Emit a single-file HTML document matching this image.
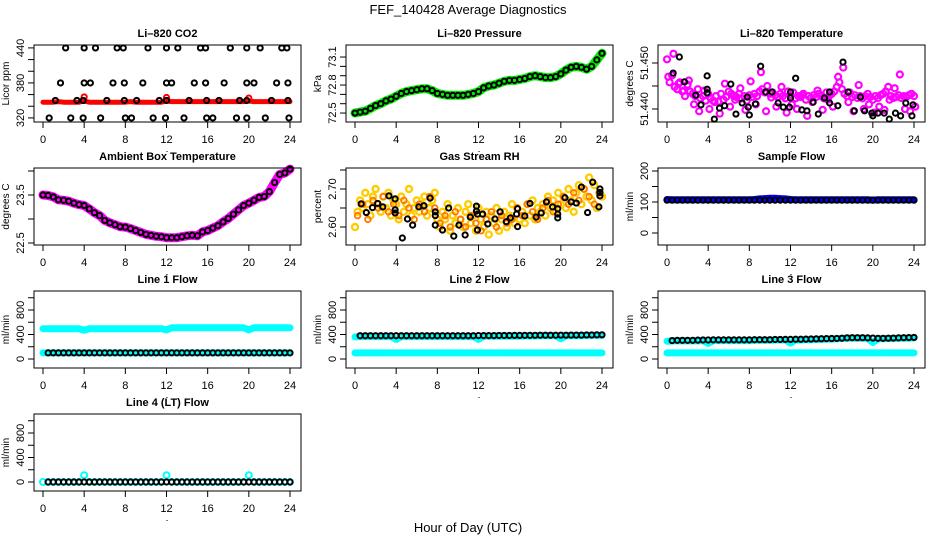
<!DOCTYPE html>
<html><head><meta charset="utf-8">
<style>
html,body{margin:0;padding:0;background:#fff;}
svg{display:block;font-family:"Liberation Sans",Arial,sans-serif;}
</style></head>
<body>
<svg id="chart" width="936" height="540" viewBox="0 0 936 540" xmlns="http://www.w3.org/2000/svg">
<text x="468" y="14" text-anchor="middle" font-size="13">FEF_140428  Average Diagnostics</text>
<text x="468" y="532" text-anchor="middle" font-size="13">Hour of Day (UTC)</text>
</svg>
<script>
// ---------- data ----------
const hourTicks = [0,4,8,12,16,20,24];
const co2BlackT = [2.2,4.0,5.1,7.2,7.8,10.2,12.0,13.1,15.3,15.8,18.2,19.8,21.1,23.2,23.7,
 1.7,4.0,4.6,6.8,7.9,9.7,12.0,12.5,14.7,15.8,17.6,19.8,20.5,22.7,23.8,
 1.2,3.3,3.9,6.2,7.9,9.1,11.3,12.0,14.2,15.9,17.1,19.1,19.8,22.2,23.8,
 0.6,2.7,3.9,5.6,8.0,8.6,10.7,11.9,13.7,15.9,16.5,18.8,19.8,21.6,23.9];
const co2BlackV = [440,440,440,440,440,440,440,440,440,440,440,440,440,440,440,
 380,380,380,380,380,380,380,380,380,380,380,380,380,380,380,
 350,350,350,350,350,350,350,350,350,350,350,350,350,350,350,
 320,320,320,320,320,320,320,320,320,320,320,320,320,320,320];
const co2Red = [347,347,347,348,347,347,347,347,349,347,347,347,347,347,347,347,347,348,347,347,347,347,347,347,349,348,348,348,348,348,348,348,348,348,348,348,348,348,348,348,349,348,348,348,348,348,348,348,348];
const co2RedSpikeT = [4,12,20];
const co2RedSpikeV = [356,355,354];
const pressure = [72.50,72.51,72.52,72.55,72.58,72.60,72.63,72.65,72.68,72.71,72.73,72.74,72.75,72.76,72.76,72.74,72.71,72.70,72.69,72.69,72.69,72.69,72.70,72.71,72.73,72.77,72.79,72.80,72.82,72.84,72.85,72.85,72.86,72.87,72.89,72.90,72.89,72.88,72.88,72.89,72.92,72.96,72.99,73.00,72.99,72.97,73.00,73.07,73.14];
const tempMag = [51.4508,51.4458,51.4473,51.4448,51.4443,51.4458,51.4438,51.4428,51.4453,
 51.4438,51.4433,51.4428,51.4443,51.4423,51.4428,51.4418,51.4433,
 51.4423,51.4418,51.4428,51.4416,51.4433,51.4420,51.4426,51.4438,
 51.4433,51.4428,51.4426,51.4433,51.4423,51.4428,51.4418,51.4430,
 51.4426,51.4433,51.4428,51.4438,51.4443,51.4436,51.4450,51.4433,
 51.4436,51.4430,51.4426,51.4433,51.4428,51.4423,51.4438,51.4430,
 51.4436,51.4423,51.4428,51.4426,51.4433,51.4420,51.4428,51.4424,
 51.4430,51.4426,51.4433,51.4428,51.4423,51.4436,51.4428,51.4433,
 51.4438,51.4448,51.4458,51.4443,51.4433,51.4428,51.4436,51.4426,
 51.4430,51.4424,51.4428,51.4423,51.4428,51.4433,51.4426,51.4420,
 51.4428,51.4424,51.4430,51.4433,51.4438,51.4448,51.4428,51.4424,
 51.4426,51.4430,51.4424,51.4428,51.4426,51.4430,51.4433,51.4428];
const tempMag2 = [51.4470,51.4520,51.4455,51.4440,51.4462,51.4410,51.4395,51.4440,
 51.4400,51.4415,51.4390,51.4455,51.4405,51.4420,51.4445,51.4398,
 51.4460,51.4410,51.4480,51.4395,51.4425,51.4405,51.4448,51.4392,
 51.4410,51.4400,51.4430,51.4385,51.4415,51.4440,51.4398,51.4420,
 51.4405,51.4470,51.4490,51.4415,51.4395,51.4452,51.4400,51.4410,
 51.4392,51.4405,51.4398,51.4420,51.4445,51.4475,51.4400,51.4395,51.4405];
const tempBlackT = [0.6,1.2,1.7,2.8,3.3,3.9,3.9,3.9,4.6,5.1,5.6,6.2,6.7,7.3,7.8,7.9,8.0,8.6,9.1,9.6,10.2,10.8,11.3,11.9,12.0,12.0,12.5,13.1,13.6,14.7,14.2,15.3,15.8,15.8,16.6,17.1,17.6,18.2,18.8,19.2,19.9,20.0,20.5,21.1,21.6,22.2,22.7,23.2,23.8,23.9];
const tempBlackV = [51.4478,51.4513,51.4459,51.4430,51.4409,51.4472,51.4443,51.4435,51.4378,51.4402,51.4407,51.4454,51.4389,51.4413,51.4426,51.4404,51.4387,51.4411,51.4493,51.4437,51.4437,51.4413,51.4404,51.4404,51.4437,51.4424,51.4467,51.4398,51.4396,51.4389,51.4415,51.4424,51.4413,51.4437,51.4407,51.4502,51.4437,51.4396,51.4426,51.4396,51.4391,51.4385,51.4391,51.4391,51.4378,51.4391,51.4385,51.4413,51.4385,51.4409];
const ambient = [23.50,23.49,23.46,23.40,23.39,23.37,23.33,23.30,23.28,23.21,23.13,23.07,22.97,22.92,22.88,22.84,22.83,22.80,22.76,22.72,22.68,22.66,22.64,22.63,22.61,22.61,22.61,22.63,22.65,22.66,22.65,22.73,22.76,22.81,22.86,22.94,23.01,23.10,23.19,23.28,23.33,23.39,23.45,23.47,23.57,23.76,23.93,23.96,24.04];
const rhYellow = [2.60,2.64,2.67,2.65,2.69,2.66,2.63,2.68,2.70,
 2.66,2.64,2.68,2.65,2.69,2.63,2.67,2.66,
 2.62,2.68,2.64,2.66,2.70,2.63,2.65,2.67,
 2.64,2.66,2.68,2.63,2.65,2.67,2.69,2.62,
 2.60,2.64,2.62,2.66,2.59,2.63,2.61,2.65,
 2.62,2.60,2.64,2.66,2.61,2.63,2.59,2.65,
 2.62,2.60,2.64,2.58,2.63,2.61,2.65,2.59,
 2.62,2.64,2.60,2.63,2.66,2.61,2.65,2.62,
 2.64,2.61,2.66,2.63,2.67,2.62,2.65,2.64,
 2.66,2.63,2.68,2.65,2.67,2.64,2.69,2.66,
 2.68,2.65,2.70,2.67,2.64,2.69,2.71,2.66,
 2.70,2.68,2.73,2.67,2.71,2.65,2.69,2.68];
const rhRed = [2.63,2.66,2.62,2.67,2.65,2.68,2.64,2.66,
 2.63,2.67,2.65,2.62,2.66,2.64,2.68,2.65,
 2.61,2.63,2.60,2.64,2.62,2.60,2.63,2.61,
 2.59,2.62,2.64,2.60,2.63,2.61,2.62,2.65,
 2.63,2.66,2.64,2.62,2.65,2.67,2.64,2.66,
 2.68,2.66,2.69,2.67,2.70,2.68,2.66,2.69];
const rhBlackT = [0.6,1.1,1.7,2.2,2.7,3.3,3.9,3.9,3.9,4.6,5.1,5.6,6.2,6.7,7.3,7.8,7.8,7.8,8.5,9.1,9.6,10.1,10.7,11.2,11.8,11.8,11.9,11.9,12.4,12.9,13.6,14.1,14.7,15.1,15.7,15.8,15.8,16.5,17.0,17.6,18.1,18.6,19.2,19.7,19.7,19.7,20.4,21.0,21.5,22.0,22.6,23.1,23.7,23.8,23.8,23.8];
const rhBlackV = [2.661,2.638,2.651,2.662,2.653,2.682,2.674,2.645,2.637,2.571,2.621,2.605,2.653,2.656,2.676,2.640,2.630,2.605,2.592,2.650,2.576,2.605,2.579,2.626,2.655,2.642,2.592,2.634,2.634,2.608,2.621,2.640,2.614,2.624,2.634,2.648,2.601,2.629,2.662,2.626,2.637,2.666,2.653,2.648,2.624,2.634,2.677,2.666,2.663,2.705,2.638,2.718,2.653,2.700,2.682,2.691];
const sampleBlue = [108,107,107,107,107,107,107,107,107,107,107,107,107,107,107,107,107,108,110,111,112,112,111,110,108,107,107,107,107,107,107,107,107,107,107,107,107,107,107,107,106,107,107,107,107,107,107,107,107];
const sampleBlack = [106,106,106,106,106,106,106,106,106,106,106,106,106,106,106,106,106,106,106,106,106,106,106,106,106,106,106,106,106,106,106,106,106,106,106,106,106,106,106,106,106,106,106,106,106,106,106,106,106];
const line1Cyan = [495,495,495,495,495,495,495,495,470,495,495,495,495,495,495,495,495,495,495,495,495,495,495,495,475,510,510,510,510,510,510,510,510,510,510,510,510,510,510,510,475,510,510,510,510,510,510,510,510];
const line1CyanLow = [100,100,100,100,100,100,100,100,100,100,100,100,100,100,100,100,100,100,100,100,100,100,100,100,100,100,100,100,100,100,100,100,100,100,100,100,100,100,100,100,100,100,100,100,100,100,100,100,100];
const line1Black = [100,100,100,100,100,100,100,100,100,100,100,100,100,100,100,100,100,100,100,100,100,100,100,100,100,100,100,100,100,100,100,100,100,100,100,100,100,100,100,100,100,100,100,100,100,100,100,100,100];
const line2Cyan = [360,365,365,365,365,365,365,365,320,365,365,365,365,365,365,365,365,365,365,365,365,365,365,365,320,370,370,370,370,370,370,370,370,375,375,375,380,380,380,380,330,380,380,380,380,385,385,385,385];
const line2CyanLow = [100,100,100,100,100,100,100,100,100,100,100,100,100,100,100,100,100,100,100,100,100,100,100,100,100,100,100,100,100,100,100,100,100,100,100,100,100,100,100,100,100,100,100,100,100,100,100,100,100];
const line2Black = [380,380,380,380,380,380,380,380,380,380,380,380,380,380,380,380,380,380,380,380,380,380,380,380,382,382,382,382,384,384,384,385,385,386,386,387,388,388,388,388,389,389,390,390,390,392,392,394,395];
const line3Cyan = [290,295,295,295,295,295,295,300,255,300,300,300,300,300,300,300,300,305,305,305,305,310,310,310,260,310,310,315,315,320,320,325,325,330,335,340,340,340,340,335,270,330,330,335,335,340,340,340,345];
const line3CyanLow = [100,100,100,100,100,100,100,100,100,100,100,100,100,100,100,100,100,100,100,100,100,100,100,100,100,100,100,100,100,100,100,100,100,100,100,100,100,100,100,100,100,100,100,100,100,100,100,100,100];
const line3Black = [300,300,305,305,305,305,308,310,310,312,312,312,312,312,312,312,312,314,315,315,315,318,318,320,320,322,322,324,326,328,330,332,334,336,340,345,348,348,348,345,342,338,338,340,342,345,348,350,352];
const line4Cyan = [0,0,0,0,0,0,0,0,110,0,0,0,0,0,0,0,0,0,0,0,0,0,0,0,110,0,0,0,0,0,0,0,0,0,0,0,0,0,0,0,110,0,0,0,0,0,0,0,0];
const line4Black = [0,0,0,0,0,0,0,0,0,0,0,0,0,0,0,0,0,0,0,0,0,0,0,0,0,0,0,0,0,0,0,0,0,0,0,0,0,0,0,0,0,0,0,0,0,0,0,0,0];

// ---------- drawing ----------
const svg = document.getElementById('chart');
const NS = 'http://www.w3.org/2000/svg';
function mk(tag, attrs, parent){
  const e = document.createElementNS(NS, tag);
  for (const k in attrs) e.setAttribute(k, attrs[k]);
  (parent||svg).appendChild(e);
  return e;
}
function halfHours(arr){ return arr.map((v,i)=>i*0.5); }
function quarterHours(arr){ return arr.map((v,i)=>i*0.25); }

function panel(col,row,name,title,ylab,ymin,ymax,ticks,labels){
  const x0 = 312*col + 34, x1 = 312*col + 301;
  const y0 = 45 + 123*row, y1 = y0 + 77;
  const g = mk('g',{});
  
  
  const xs = h => x0 + 9 + h*(247/24);
  const ys = v => y1 - (v - ymin)/(ymax - ymin)*(y1 - y0);
  const t = mk('text',{x:(x0+x1)/2,y:y0-8,'text-anchor':'middle','font-size':11,'font-weight':'bold'},g);
  t.textContent = title;
  
  
  const yl = mk('text',{x:0,y:0,transform:`translate(${x0-25},${(y0+y1)/2}) rotate(-90)`,'text-anchor':'middle','font-size':10},g);
  yl.textContent = ylab;
  
  
  const plot = mk('g',{},g);
  
  
  const axes = mk('g',{},g);
  
  
  const box = mk('rect',{x:x0,y:y0,width:x1-x0,height:y1-y0,fill:'none',stroke:'#000','stroke-width':1},axes);
  
  
  hourTicks.forEach(h=>{
    mk('line',{x1:xs(h),x2:xs(h),y1:y1,y2:y1+6,stroke:'#000'},axes);
    const lt = mk('text',{x:xs(h),y:y1+21,'text-anchor':'middle','font-size':11},axes);
    lt.textContent = h;
    
    
  });
  mk('rect',{x:xs(12),y:y1+29,width:1,height:1,fill:'#000'},axes);
  ticks.forEach(v=>{
    mk('line',{x1:x0-6,x2:x0,y1:ys(v),y2:ys(v),stroke:'#000'},axes);
  });
  labels.forEach(v=>{
    const lt = mk('text',{x:0,y:0,transform:`translate(${x0-10},${ys(v)}) rotate(-90)`,'text-anchor':'middle','font-size':11},axes);
    lt.textContent = v;
    
    
  });
  return {xs,ys,plot};
}
function pts(p,T,V,color,r,sw,name){
  const g = mk('g',{},p.plot);
  
  
  T.forEach((t,i)=>{
    mk('circle',{cx:p.xs(t),cy:p.ys(V[i]),r:r,fill:'none',stroke:color,'stroke-width':sw},g);
  });
}
function band(p,T,V,color,w,name){
  const d = T.map((t,i)=>(i?'L':'M')+p.xs(t).toFixed(1)+','+p.ys(V[i]).toFixed(1)).join('');
  const e = mk('path',{d:d,fill:'none',stroke:color,'stroke-width':w,'stroke-linejoin':'round','stroke-linecap':'round'},p.plot);
  
  
}
const BK='#000', R=2.6, SW=2;
const flowTicks=[0,200,400,600,800,1000], flowLabels=[0,400,800];

let p = panel(0,0,'co2','Li\u2013820 CO2','Licor ppm',313,445,[320,340,360,380,400,420,440],[320,380,440]);
band(p,halfHours(co2Red),co2Red,'#ff0000',5,'co2-red-series');
pts(p,co2RedSpikeT,co2RedSpikeV,'#ff0000',R,SW,'co2-red-spikes');
pts(p,co2BlackT,co2BlackV,BK,R,SW,'co2-black-series');

p = panel(1,0,'pressure','Li\u2013820 Pressure','kPa',72.404,73.229,[72.5,72.6,72.7,72.8,72.9,73.0,73.1],['72.5','72.8','73.1']);
band(p,halfHours(pressure),pressure,'#00ee00',9,'pressure-green-series');
pts(p,halfHours(pressure),pressure,BK,R,SW,'pressure-black-series');

p = panel(2,0,'temperature','Li\u2013820 Temperature','degrees C',51.43717,51.45391,[51.440,51.445,51.450],['51.440','51.450']);
pts(p,quarterHours(tempMag),tempMag,'#ff00ff',3,2.2,'temperature-magenta-series');
pts(p,tempMag2.map((v,i)=>0.125+i*0.5),tempMag2,'#ff00ff',3,2.2,'temperature-magenta-series-2');
pts(p,tempBlackT,tempBlackV,BK,R,SW,'temperature-black-series');

p = panel(0,1,'ambient','Ambient Box Temperature','degrees C',22.458,24.0625,[22.5,23.0,23.5,24.0],['22.5','23.5']);
band(p,halfHours(ambient),ambient,'#ff00ff',9,'ambient-magenta-series');
pts(p,halfHours(ambient),ambient,BK,R,SW,'ambient-black-series');

p = panel(1,1,'rh','Gas Stream RH','percent',2.5526,2.7553,[2.60,2.65,2.70,2.75],['2.60','2.70']);
pts(p,quarterHours(rhYellow),rhYellow,'#ffcc00',3,2.4,'rh-yellow-series');
pts(p,rhRed.map((v,i)=>0.25+i*0.5),rhRed,'#ff7700',2.8,1.8,'rh-red-series');
pts(p,rhBlackT,rhBlackV,BK,R,SW,'rh-black-series');

p = panel(2,1,'sample-flow','Sample Flow','ml/min',-38.7,209.7,[0,50,100,150,200],[0,100,200]);
band(p,halfHours(sampleBlue),sampleBlue,'#0000ff',7,'sample-blue-series');
pts(p,halfHours(sampleBlack),sampleBlack,BK,R,SW,'sample-black-series');

p = panel(0,2,'line1','Line 1 Flow','ml/min',-147,1110,flowTicks,flowLabels);
band(p,halfHours(line1Cyan),line1Cyan,'#00ffff',7,'line1-cyan-high');
band(p,halfHours(line1CyanLow),line1CyanLow,'#00ffff',7,'line1-cyan-low');
pts(p,halfHours(line1Black).slice(1),line1Black.slice(1),BK,R,SW,'line1-black-series');
p = panel(1,2,'line2','Line 2 Flow','ml/min',-147,1110,flowTicks,flowLabels);
band(p,halfHours(line2Cyan),line2Cyan,'#00ffff',7,'line2-cyan-high');
band(p,halfHours(line2CyanLow),line2CyanLow,'#00ffff',7,'line2-cyan-low');
pts(p,halfHours(line2Black).slice(1),line2Black.slice(1),BK,R,SW,'line2-black-series');
p = panel(2,2,'line3','Line 3 Flow','ml/min',-147,1110,flowTicks,flowLabels);
band(p,halfHours(line3Cyan),line3Cyan,'#00ffff',7,'line3-cyan-high');
band(p,halfHours(line3CyanLow),line3CyanLow,'#00ffff',7,'line3-cyan-low');
pts(p,halfHours(line3Black).slice(1),line3Black.slice(1),BK,R,SW,'line3-black-series');
p = panel(0,3,'line4','Line 4 (LT) Flow','ml/min',-147,1110,flowTicks,flowLabels);
pts(p,halfHours(line4Cyan),line4Cyan,'#00ffff',3,2,'line4-cyan-series');
pts(p,halfHours(line4Black).slice(1),line4Black.slice(1),BK,R,SW,'line4-black-series');
</script>
</body></html>
